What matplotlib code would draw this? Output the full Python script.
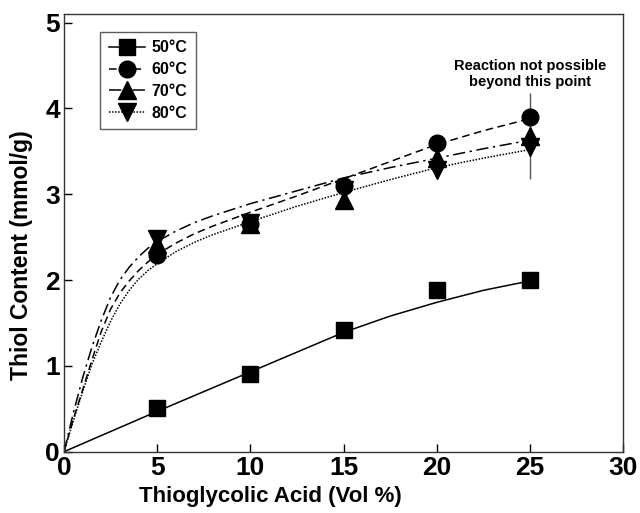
import matplotlib
matplotlib.use("Agg")
import matplotlib.pyplot as plt

plt.rcParams['font.family'] = ['Liberation Sans', 'DejaVu Sans']
plt.rcParams['font.weight'] = 'bold'

# measured points
vol = [5, 10, 15, 20, 25]
t50 = [0.51, 0.91, 1.42, 1.88, 2.00]
t60 = [2.29, 2.65, 3.10, 3.60, 3.90]
t70 = [2.42, 2.65, 2.93, 3.42, 3.68]
t80 = [2.48, 2.67, 3.05, 3.28, 3.55]
err70 = [0, 0, 0, 0, 0.5]

# fitted curves
fit50_x = [0, 2.5, 5, 7.5, 10, 12.5, 15, 17.5, 20, 22.5, 25]
fit50_y = [0, 0.235, 0.47, 0.70, 0.93, 1.16, 1.39, 1.58, 1.74, 1.88, 1.99]

fit_x = [0, 0.5, 1, 1.5, 2, 2.5, 3, 3.5, 4, 4.5, 5, 6, 7, 8, 10, 12.5, 15, 17.5, 20, 22.5, 25]
fit60_y = [0, 0.38, 0.72, 1.07, 1.40, 1.66, 1.85, 1.99, 2.11, 2.21, 2.30,
           2.43, 2.54, 2.63, 2.79, 2.98, 3.18, 3.38, 3.58, 3.74, 3.88]
fit70_y = [0, 0.45, 0.86, 1.22, 1.53, 1.80, 2.00, 2.15, 2.27, 2.37, 2.45,
           2.57, 2.67, 2.75, 2.89, 3.04, 3.19, 3.31, 3.42, 3.53, 3.63]
fit80_y = [0, 0.36, 0.70, 1.02, 1.28, 1.52, 1.72, 1.88, 2.01, 2.11, 2.19,
           2.33, 2.44, 2.53, 2.68, 2.86, 3.02, 3.17, 3.31, 3.42, 3.52]

fig = plt.figure(figsize=(6.4, 5.13), dpi=100)
ax = fig.add_axes([0.1, 0.1195, 0.8735, 0.8532])

lw = 1.1
ax.plot(fit50_x, fit50_y, color='black', lw=lw, ls='-')
ax.plot(fit_x, fit60_y, color='black', lw=lw, ls=(0, (5, 3)))
ax.plot(fit_x, fit70_y, color='black', lw=lw, ls=(0, (8, 3, 1.5, 3)))
ax.plot(fit_x, fit80_y, color='black', lw=lw, ls=(0, (1, 1)))

ax.errorbar(vol, t70, yerr=err70, fmt='none', ecolor='#555555', elinewidth=1.0, capsize=0)

ax.plot(vol, t80, 'v', color='black', ms=13, ls='none')
ax.plot(vol, t70, '^', color='black', ms=13, ls='none')
ax.plot(vol, t60, 'o', color='black', ms=12, ls='none')
ax.plot(vol, t50, 's', color='black', ms=11, ls='none')

# legend handles
h50, = ax.plot([], [], color='black', lw=lw, ls='-', marker='s', ms=11)
h60, = ax.plot([], [], color='black', lw=lw, ls=(0, (5, 3)), marker='o', ms=12)
h70, = ax.plot([], [], color='black', lw=lw, ls=(0, (8, 3, 1.5, 3)), marker='^', ms=13)
h80, = ax.plot([], [], color='black', lw=lw, ls=(0, (1, 1)), marker='v', ms=13)
leg = ax.legend([h50, h60, h70, h80], ['50°C', '60°C', '70°C', '80°C'],
                loc='upper left', bbox_to_anchor=(0.05, 0.978),
                frameon=True, fancybox=False, edgecolor='#333333',
                prop={'weight': 'bold', 'size': 11.5}, handlelength=2.3,
                handletextpad=0.35, labelspacing=0.42, borderpad=0.55)
leg.get_frame().set_linewidth(1.0)

ax.text(25, 4.40, 'Reaction not possible\nbeyond this point', ha='center', va='center',
        fontsize=10.5, fontweight='bold', linespacing=1.25)

ax.set_xlim(0, 30)
ax.set_ylim(0, 5.1)
ax.set_xticks([0, 5, 10, 15, 20, 25, 30])
ax.set_yticks([0, 1, 2, 3, 4, 5])
ax.tick_params(direction='in', length=6, width=1, labelsize=19, pad=3)
for lab in ax.get_xticklabels() + ax.get_yticklabels():
    lab.set_fontweight('bold')
for s in ax.spines.values():
    s.set_linewidth(1.0)
    s.set_color('#333333')

ax.set_xlabel('Thioglycolic Acid (Vol %)', fontsize=16, fontweight='bold')
ax.set_ylabel('Thiol Content (mmol/g)', fontsize=16.5, fontweight='bold')
ax.xaxis.set_label_coords(0.37, -0.078)
ax.yaxis.set_label_coords(-0.055, 0.45)

fig.savefig('out.png', dpi=100)
